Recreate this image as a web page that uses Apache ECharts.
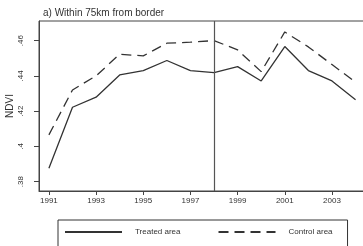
<!DOCTYPE html>
<html lang="en">
<head>
    <meta charset="utf-8">
    <title>NDVI</title>
    <script src="https://cdn.jsdelivr.net/npm/echarts@6/dist/echarts.min.js"></script>
    <style>
        html, body { margin: 0; padding: 0; background: #fff; }
    </style>
</head>
<body>
<div id="main" style="width: 363px;height:246px"></div>
<script>
    // data
    var years = [1991, 1992, 1993, 1994, 1995, 1996, 1997, 1998, 1999, 2000, 2001, 2002, 2003, 2004];
    var treated = [.3876, .4222, .4279, .4405, .4430, .4487, .4430, .4418, .4452, .4371, .4566, .4430, .4371, .4264];
    var control = [.4065, .4320, .4400, .4523, .4513, .4585, .4591, .4600, .4547, .4424, .4649, .4564, .4464, .4364];
    var xTicks = [1991, 1993, 1995, 1997, 1999, 2001, 2003];
    var yTicks = [.38, .40, .42, .44, .46];
    var yTickLabels = ['.38', '.4', '.42', '.44', '.46'];
    var treatYear = 1998;

    function pairs(vals) {
        return years.map(function (y, i) { return [y, vals[i]]; });
    }

    var font = 'Liberation Sans, Arial, sans-serif';
    var ink = '#333';

    var chart = echarts.init(document.getElementById('main'));
    var option = {
        animation: false,
        title: {
            text: 'a) Within 75km from border',
            left: 38,
            top: 3,
            textStyle: { fontFamily: font, fontSize: 10, fontWeight: 'normal', color: ink }
        },
        grid: {
            left: 39, right: -2, top: 21, bottom: 55,
            outerBoundsMode: 'none',
            containLabel: false,
            show: true, borderColor: '#444', borderWidth: 1
        },
        xAxis: {
            type: 'value',
            min: 1990.58,
            max: 2004.40,
            splitLine: { show: false },
            axisLine: { lineStyle: { color: '#444' } },
            axisTick: { customValues: xTicks, length: 4, lineStyle: { color: '#444' } },
            axisLabel: {
                customValues: xTicks,
                fontFamily: font, fontSize: 8, color: ink, margin: 6,
                formatter: function (v) { return String(v); }
            }
        },
        yAxis: {
            type: 'value',
            min: 0.3747,
            max: 0.4711,
            name: 'NDVI',
            nameLocation: 'middle',
            nameGap: 24,
            nameMoveOverlap: false,
            nameTextStyle: { fontFamily: font, fontSize: 10, color: ink },
            splitLine: { show: false },
            axisLine: { show: true, lineStyle: { color: '#444' } },
            axisTick: { show: true, customValues: yTicks, length: 5, lineStyle: { color: '#444' } },
            axisLabel: {
                customValues: yTicks,
                rotate: 90,
                fontFamily: font, fontSize: 8, color: ink, margin: 14,
                formatter: function (v) {
                    var i = yTicks.findIndex(function (t) { return Math.abs(t - v) < 1e-6; });
                    return i >= 0 ? yTickLabels[i] : '';
                }
            }
        },
        legend: {
            left: 58,
            top: 220,
            orient: 'horizontal',
            borderColor: '#333',
            borderWidth: 1,
            borderRadius: 0,
            padding: [8, 15, 20, 6],
            itemWidth: 57,
            itemHeight: 10,
            itemGap: 37,
            itemStyle: { opacity: 0 },
            textStyle: { fontFamily: font, fontSize: 8, color: ink, padding: [0, 0, 0, 8] },
            data: ['Treated area', 'Control area']
        },
        series: [
            {
                name: 'Treated area',
                type: 'line',
                symbol: 'none',
                data: pairs(treated),
                lineStyle: { color: ink, width: 1.3, type: 'solid' },
                itemStyle: { color: ink },
                markLine: {
                    silent: true,
                    symbol: 'none',
                    label: { show: false },
                    lineStyle: { color: '#555', width: 1.2, type: 'solid' },
                    data: [{ xAxis: treatYear }]
                }
            },
            {
                name: 'Control area',
                type: 'line',
                symbol: 'none',
                data: pairs(control),
                lineStyle: { color: ink, width: 1.3, type: [10, 6] },
                itemStyle: { color: ink }
            }
        ]
    };
    chart.setOption(option);
</script>
</body>
</html>
